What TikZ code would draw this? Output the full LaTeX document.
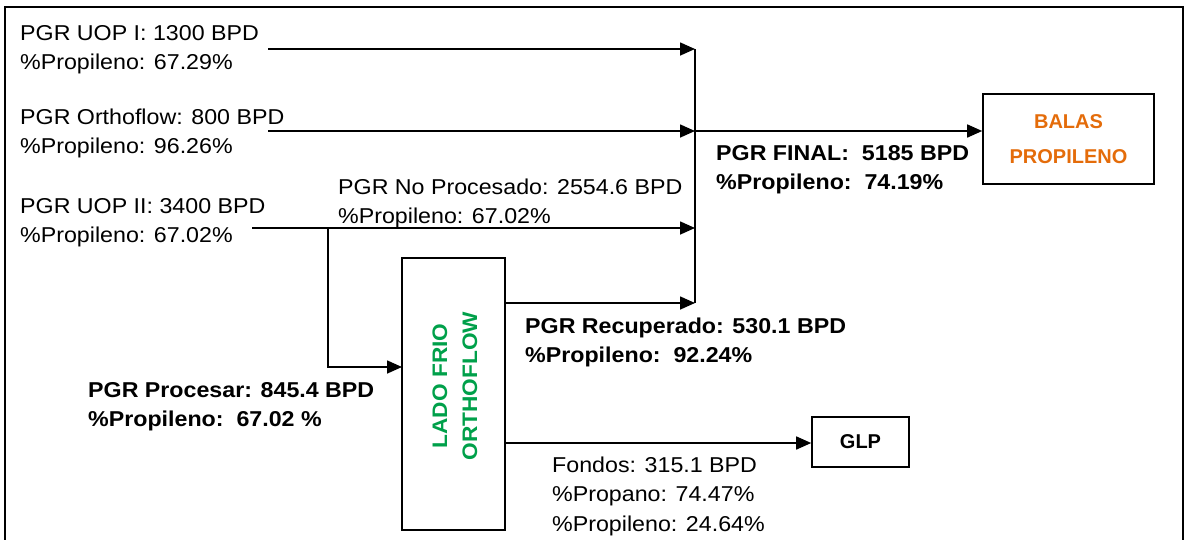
\documentclass[tikz,border=0pt]{standalone}
\usepackage{fontspec}
\setmainfont{Liberation Sans}[FakeStretch=1.08]
\newfontfamily\boxfont{Liberation Sans}
\usetikzlibrary{arrows.meta}
\definecolor{orangeT}{HTML}{E46C0A}
\definecolor{greenT}{HTML}{00A04A}
\begin{document}
\begin{tikzpicture}[x=1pt,y=-1pt,
  line/.style={line width=1.6pt},
  flow/.style={line width=1.6pt,-{Triangle[length=15pt,width=13pt]}},
  box/.style={draw,line width=1.6pt,inner sep=0pt},
  lbl/.style={anchor=base west,inner sep=0pt,font=\fontsize{21.5}{29.5}\selectfont},
  blbl/.style={lbl,font=\fontsize{21.5}{29.5}\selectfont\bfseries},
]
\useasboundingbox (0,0) rectangle (1188,539);
\draw[line width=2pt] (5,545) -- (5,7) -- (1183,7) -- (1183,545);

% boxes
\node[box,minimum width=103pt,minimum height=272pt] (lado) at (453.5,394) {};
\node[rotate=90,inner sep=0pt,text=greenT,align=center,
      font=\fontsize{21}{30}\selectfont\bfseries] (ladotxt) at (455,386) {LADO FRIO\\ORTHOFLOW};
\node[box,minimum width=171pt,minimum height=90pt,align=center,text=orangeT,
      font=\boxfont\fontsize{20}{35}\selectfont\bfseries] (balas) at (1068.5,139) {BALAS\\PROPILENO};
\node[box,minimum width=97pt,minimum height=50pt,
      font=\boxfont\fontsize{20}{24}\selectfont\bfseries] (glp) at (860.5,442) {GLP};

% labels
\node[lbl] (t1) at (20,40) {\begin{tabular}[t]{@{}l@{}}PGR UOP I: 1300 BPD\\\%Propileno: 67.29\%\end{tabular}};
\node[lbl] (t2) at (20,124) {\begin{tabular}[t]{@{}l@{}}PGR Orthoflow: 800 BPD\\\%Propileno: 96.26\%\end{tabular}};
\node[lbl] (t3) at (20,213) {\begin{tabular}[t]{@{}l@{}}PGR UOP II: 3400 BPD\\\%Propileno: 67.02\%\end{tabular}};
\node[lbl] (noproc) at (338,194) {\begin{tabular}[t]{@{}l@{}}PGR No Procesado: 2554.6 BPD\\\%Propileno: 67.02\%\end{tabular}};
\node[blbl] (final) at (716,160) {\begin{tabular}[t]{@{}l@{}}PGR FINAL:\ \ 5185 BPD\\\%Propileno:\ \ 74.19\%\end{tabular}};
\node[blbl] (recup) at (525,333) {\begin{tabular}[t]{@{}l@{}}PGR Recuperado: 530.1 BPD\\\%Propileno:\ \ 92.24\%\end{tabular}};
\node[blbl] (proc) at (88,397) {\begin{tabular}[t]{@{}l@{}}PGR Procesar: 845.4 BPD\\\%Propileno:\ \ 67.02 \%\end{tabular}};
\node[lbl] (fondos) at (552,472) {\begin{tabular}[t]{@{}l@{}}Fondos: 315.1 BPD\\\%Propano: 74.47\%\\\%Propileno: 24.64\%\end{tabular}};

% junction coordinates
\coordinate (s1) at (268,49);
\coordinate (j1) at (695,49);
\coordinate (s2) at (268,131);
\coordinate (j2) at (695,131);
\coordinate (s3) at (252,228);
\coordinate (b3) at (328,228);
\coordinate (j3) at (695,228);
\coordinate (r0) at (505,303);
\coordinate (j4) at (695,303);
\coordinate (f0) at (505,443);
\coordinate (p1) at (402,367);

% connectors
\draw[line] (j1) -- (j4);
\draw[flow] (s1) -- (j1);
\draw[flow] (s2) -- (j2);
\draw[flow] (j2) -- (j2 -| balas.west);
\draw[flow] (s3) -- (j3);
\draw[flow] (b3) |- (p1);
\draw[flow] (r0) -- (j4);
\draw[flow] (f0) -- (f0 -| glp.west);
\end{tikzpicture}
\end{document}
